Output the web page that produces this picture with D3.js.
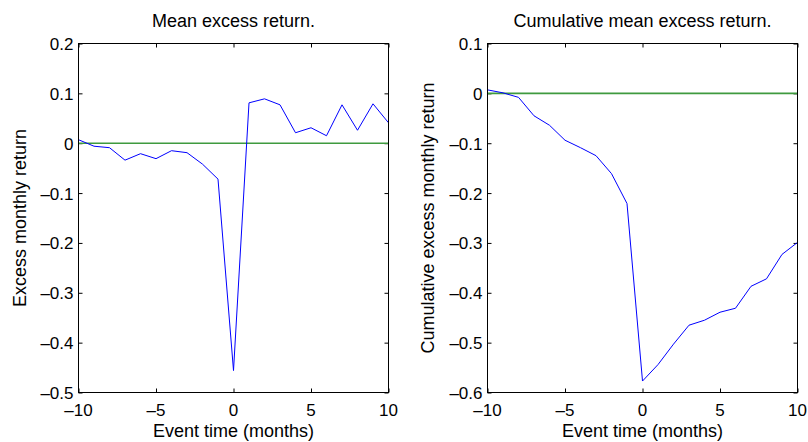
<!DOCTYPE html>
<html>
<head>
<meta charset="utf-8">
<script src="https://cdn.jsdelivr.net/npm/d3@7"></script>
<style>
  body { margin: 0; background: #fff; }
  svg text { font-family: "Liberation Sans", Arial, sans-serif; font-size: 18px; fill: #000; }
  svg text.tick { font-size: 17px; }
</style>
</head>
<body>
<div id="chart"></div>
<script>
// event time in months
const months = d3.range(-10, 11);

// mean excess monthly return per event month
const meanExcess = [0.007, -0.006, -0.009, -0.034, -0.021, -0.031, -0.015, -0.019, -0.042, -0.072,
  -0.456, 0.081, 0.089, 0.077, 0.021, 0.031, 0.015, 0.077, 0.026, 0.079, 0.041];

// cumulative mean excess return
const cumExcess = [0.007, 0.001, -0.008, -0.045, -0.064, -0.094, -0.109, -0.125, -0.161, -0.221,
  -0.577, -0.544, -0.503, -0.465, -0.455, -0.439, -0.431, -0.387, -0.372, -0.323, -0.299];

const xTicks = [-10, -5, 0, 5, 10];
const leftYTicks = [0.2, 0.1, 0, -0.1, -0.2, -0.3, -0.4, -0.5];
const rightYTicks = [0.1, 0, -0.1, -0.2, -0.3, -0.4, -0.5, -0.6];

const W = 808, H = 442;
const svg = d3.select("#chart").append("svg").attr("width", W).attr("height", H);

const fmt = (v) => v === 0 ? "0" : (Number.isInteger(v) ? String(v) : v.toFixed(1)).replace("-", "\u2013");

function panel(opts) {
  const { left, right, top, bottom, ydom, yTicks, values, title, ylabel, ylabelX } = opts;
  const x = d3.scaleLinear().domain([-10, 10]).range([left, right]);
  const y = d3.scaleLinear().domain(ydom).range([bottom, top]);
  const g = svg.append("g");

  // inward ticks on all four sides
  const tl = 4;
  g.append("g").attr("transform", `translate(0,${bottom})`)
    .call(d3.axisTop(x).tickValues(xTicks).tickSize(tl).tickFormat(""))
    .call(s => s.select(".domain").remove());
  g.append("g").attr("transform", `translate(0,${top})`)
    .call(d3.axisBottom(x).tickValues(xTicks).tickSize(tl).tickFormat(""))
    .call(s => s.select(".domain").remove());
  g.append("g").attr("transform", `translate(${left},0)`)
    .call(d3.axisRight(y).tickValues(yTicks).tickSize(tl).tickFormat(""))
    .call(s => s.select(".domain").remove());
  g.append("g").attr("transform", `translate(${right},0)`)
    .call(d3.axisLeft(y).tickValues(yTicks).tickSize(tl).tickFormat(""))
    .call(s => s.select(".domain").remove());

  // tick labels
  g.selectAll(".xl").data(xTicks).enter().append("text")
    .attr("class", "tick")
    .attr("x", d => x(d)).attr("y", bottom + 23)
    .attr("text-anchor", "middle").text(fmt);
  g.selectAll(".yl").data(yTicks).enter().append("text")
    .attr("class", "tick")
    .attr("x", left - 5).attr("y", d => y(d) + 6.5)
    .attr("text-anchor", "end").text(fmt);

  // zero reference line
  g.append("line")
    .attr("x1", x(-10)).attr("x2", x(10))
    .attr("y1", y(0)).attr("y2", y(0))
    .attr("stroke", "#3f9a3f").attr("stroke-width", 1.6);

  const line = d3.line().x((d, i) => x(months[i])).y(d => y(d));
  g.append("path").datum(values)
    .attr("d", line).attr("fill", "none")
    .attr("stroke", "#0000ff").attr("stroke-width", 1);

  // box
  g.append("rect")
    .attr("x", left).attr("y", top)
    .attr("width", right - left).attr("height", bottom - top)
    .attr("fill", "none").attr("stroke", "#000").attr("stroke-width", 1);

  g.append("text").attr("x", (left + right) / 2).attr("y", 27)
    .attr("text-anchor", "middle").text(title);
  g.append("text").attr("x", (left + right) / 2).attr("y", 437)
    .attr("text-anchor", "middle").text("Event time (months)");
  g.append("text")
    .attr("transform", `translate(${ylabelX},${(top + bottom) / 2}) rotate(-90)`)
    .attr("text-anchor", "middle").text(ylabel);
}

panel({
  left: 78.5, right: 388.5, top: 43.5, bottom: 392.5,
  ydom: [-0.5, 0.2], yTicks: leftYTicks, values: meanExcess,
  title: "Mean excess return.", ylabel: "Excess monthly return", ylabelX: 26
});

panel({
  left: 487.5, right: 797.5, top: 43.5, bottom: 392.5,
  ydom: [-0.6, 0.1], yTicks: rightYTicks, values: cumExcess,
  title: "Cumulative mean excess return.", ylabel: "Cumulative excess monthly return", ylabelX: 434
});
</script>
</body>
</html>
